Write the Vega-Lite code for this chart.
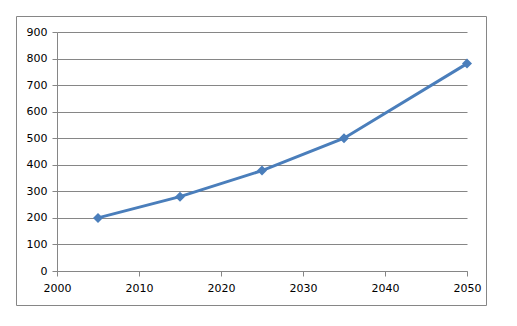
{
  "$schema": "https://vega.github.io/schema/vega-lite/v6.json",
  "width": 410,
  "height": 239,
  "autosize": "none",
  "padding": {"left": 57, "top": 32, "right": 50, "bottom": 55},
  "background": "white",
  "config": {
    "view": {"stroke": null},
    "axis": {
      "labelFont": "DejaVu Sans",
      "labelFontSize": 11,
      "labelColor": "#000000",
      "domainColor": "#868686",
      "tickColor": "#868686",
      "gridColor": "#868686",
      "tickSize": 5,
      "title": null
    }
  },
  "data": {
    "values": [
      {"year": 2005, "value": 200},
      {"year": 2015, "value": 280},
      {"year": 2025, "value": 378},
      {"year": 2035, "value": 500},
      {"year": 2050, "value": 781}
    ]
  },
  "layer": [
    {
      "mark": {"type": "rect", "fill": null, "stroke": "#868686", "strokeWidth": 1, "clip": false},
      "data": {"values": [{}]},
      "encoding": {
        "x": {"value": -40.5},
        "x2": {"value": 429.5},
        "y": {"value": -15.5},
        "y2": {"value": 273.5}
      }
    },
    {
      "mark": {"type": "line", "color": "#4A7EBB", "strokeWidth": 3, "point": {"shape": "diamond", "size": 100, "filled": true, "color": "#4A7EBB"}},
      "encoding": {
        "x": {
          "field": "year", "type": "quantitative",
          "scale": {"domain": [2000, 2050], "nice": false, "zero": false},
          "axis": {"values": [2000, 2010, 2020, 2030, 2040, 2050], "format": "d", "grid": false, "labelFlush": false, "labelPadding": 6}
        },
        "y": {
          "field": "value", "type": "quantitative",
          "scale": {"domain": [0, 900], "nice": false},
          "axis": {"values": [0, 100, 200, 300, 400, 500, 600, 700, 800, 900], "grid": true, "labelPadding": 5}
        }
      }
    }
  ]
}
